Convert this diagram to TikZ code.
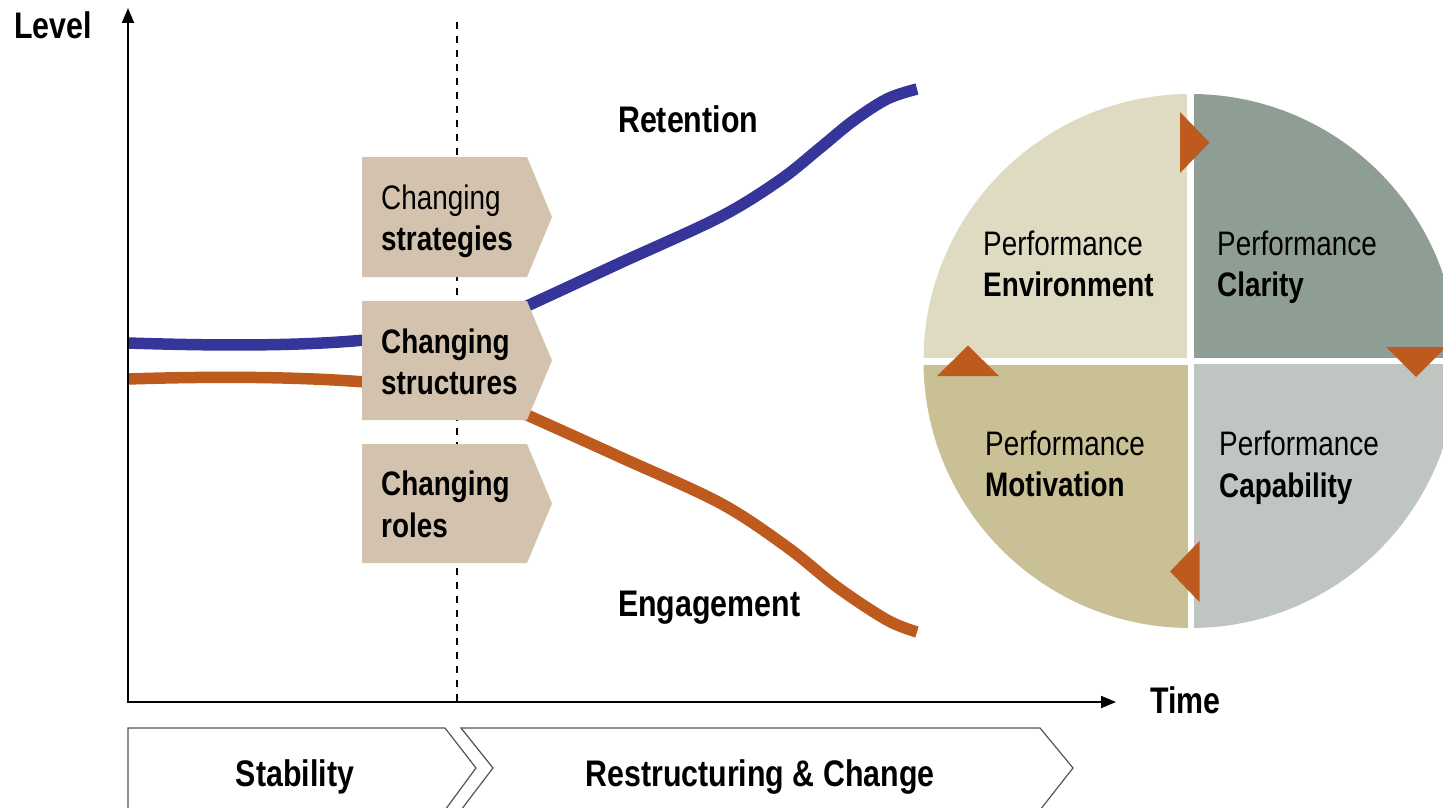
\documentclass[tikz,border=0pt]{standalone}
\usepackage{fontspec}
\setmainfont{Liberation Sans}[FakeStretch=0.82]
\usetikzlibrary{arrows.meta}
\definecolor{blueC}{HTML}{36369A}
\definecolor{orangeC}{HTML}{BE5A1E}
\definecolor{tanC}{HTML}{D3C3AE}
\definecolor{qTL}{HTML}{DFDBC2}
\definecolor{qTR}{HTML}{8E9E94}
\definecolor{qBL}{HTML}{C9C195}
\definecolor{qBR}{HTML}{BFC5C1}
\definecolor{outlineC}{HTML}{555555}
\tikzset{
  txt/.style={anchor=base west, inner sep=0pt, font=\fontsize{34}{40}\selectfont},
  txtb/.style={txt, font=\fontsize{34}{40}\selectfont\bfseries},
  lab/.style={anchor=base west, inner sep=0pt, font=\fontsize{37}{42}\selectfont\bfseries},
  axis/.style={line width=2pt, -{Triangle[length=15pt,width=12pt]}},
  curve/.style={line width=11.5pt, line cap=butt},
  chevbox/.style={fill=tanC},
  phase/.style={draw=outlineC, line width=1.2pt},
  tri/.style={fill=orangeC},
}
\begin{document}
\begin{tikzpicture}[x=1pt,y=-1pt]
\clip (0,0) rectangle (1443,808);
\fill[white] (0,0) rectangle (1443,808);

% coordinates
\coordinate (origin) at (128,703);
\coordinate (ytop) at (128,8);
\coordinate (xend) at (1116,702);
\coordinate (dtop) at (457,22);
\coordinate (dbot) at (457,702);

% dashed divider
\draw[line width=1.5pt, dash pattern=on 7pt off 7pt] (dtop) -- (dbot);

% curves
\coordinate (bA) at (128,343);
\coordinate (bB) at (365,340);
\coordinate (oA) at (128,379);
\coordinate (oB) at (365,382);
\draw[curve, blueC] (bA) .. controls (220,346) and (300,346) .. (bB);
\draw[curve, orangeC] (oA) .. controls (220,376) and (300,377) .. (oB);
\draw[curve, blueC] plot[smooth, tension=0.55] coordinates {(515,311) (527,306) (620,263) (720,217) (780,180) (820,148) (853,121) (887,99) (917,89)};
\draw[curve, orangeC] plot[smooth, tension=0.55] coordinates {(515,410) (527,415) (620,457) (720,503) (787,547) (837,587) (887,620) (917,632)};

% chevron boxes
\fill[chevbox] (362,157) -- (527,157) -- (552,217) -- (527,277) -- (362,277) -- cycle;
\fill[chevbox] (362,301) -- (527,301) -- (552,360.5) -- (527,420) -- (362,420) -- cycle;
\fill[chevbox] (362,444) -- (527,444) -- (552,503.5) -- (527,563) -- (362,563) -- cycle;
\node[txt]  (s1a) at (381,209) {Changing};
\node[txtb] (s1b) at (381,250) {strategies};
\node[txtb] (s2a) at (381,353) {Changing};
\node[txtb] (s2b) at (381,394) {structures};
\node[txtb] (s3a) at (381,495) {Changing};
\node[txtb] (s3b) at (381,537) {roles};

% axes
\draw[axis] (origin) -- (ytop);
\draw[axis] (127,702) -- (xend);
\node[lab] (level) at (14,39) {Level};
\node[lab] (time) at (1150,713) {Time};
\node[lab] (ret) at (618,132) {Retention};
\node[lab] (eng) at (618,616) {Engagement};

% circle
\coordinate (C) at (1190.5,361);
\begin{scope}
\clip (C) circle[radius=267pt];
\fill[qTL] (900,80) rectangle (1187,358);
\fill[qTR] (1194,80) rectangle (1470,357.5);
\fill[qBL] (900,365) rectangle (1187.5,650);
\fill[qBR] (1194,364) rectangle (1470,650);
\end{scope}
\fill[tri] (1180,112) -- (1209.5,142.5) -- (1180,173) -- cycle;
\fill[tri] (1386,347) -- (1446,347) -- (1416,377) -- cycle;
\fill[tri] (1199.5,541) -- (1199.5,602) -- (1170,571.5) -- cycle;
\fill[tri] (937,376) -- (999,376) -- (968,345.5) -- cycle;
\node[txt]  (p1a) at (983,255) {Performance};
\node[txtb] (p1b) at (983,296) {Environment};
\node[txt]  (p2a) at (1217,255) {Performance};
\node[txtb] (p2b) at (1217,296) {Clarity};
\node[txt]  (p3a) at (985,455.5) {Performance};
\node[txtb] (p3b) at (985,496.5) {Motivation};
\node[txt]  (p4a) at (1219,455.5) {Performance};
\node[txtb] (p4b) at (1219,497.5) {Capability};

% phase chevrons
\draw[phase] (128,812) -- (128,728) -- (445,728) -- (476,768) -- (445,810);
\draw[phase] (461,810) -- (493,768) -- (461,728) -- (1040,728) -- (1073,768) -- (1040,810);
\node[lab, anchor=base] (stab) at (295,786) {Stability};
\node[lab, anchor=base] (restr) at (760,786) {Restructuring \& Change};
\end{tikzpicture}
\end{document}
